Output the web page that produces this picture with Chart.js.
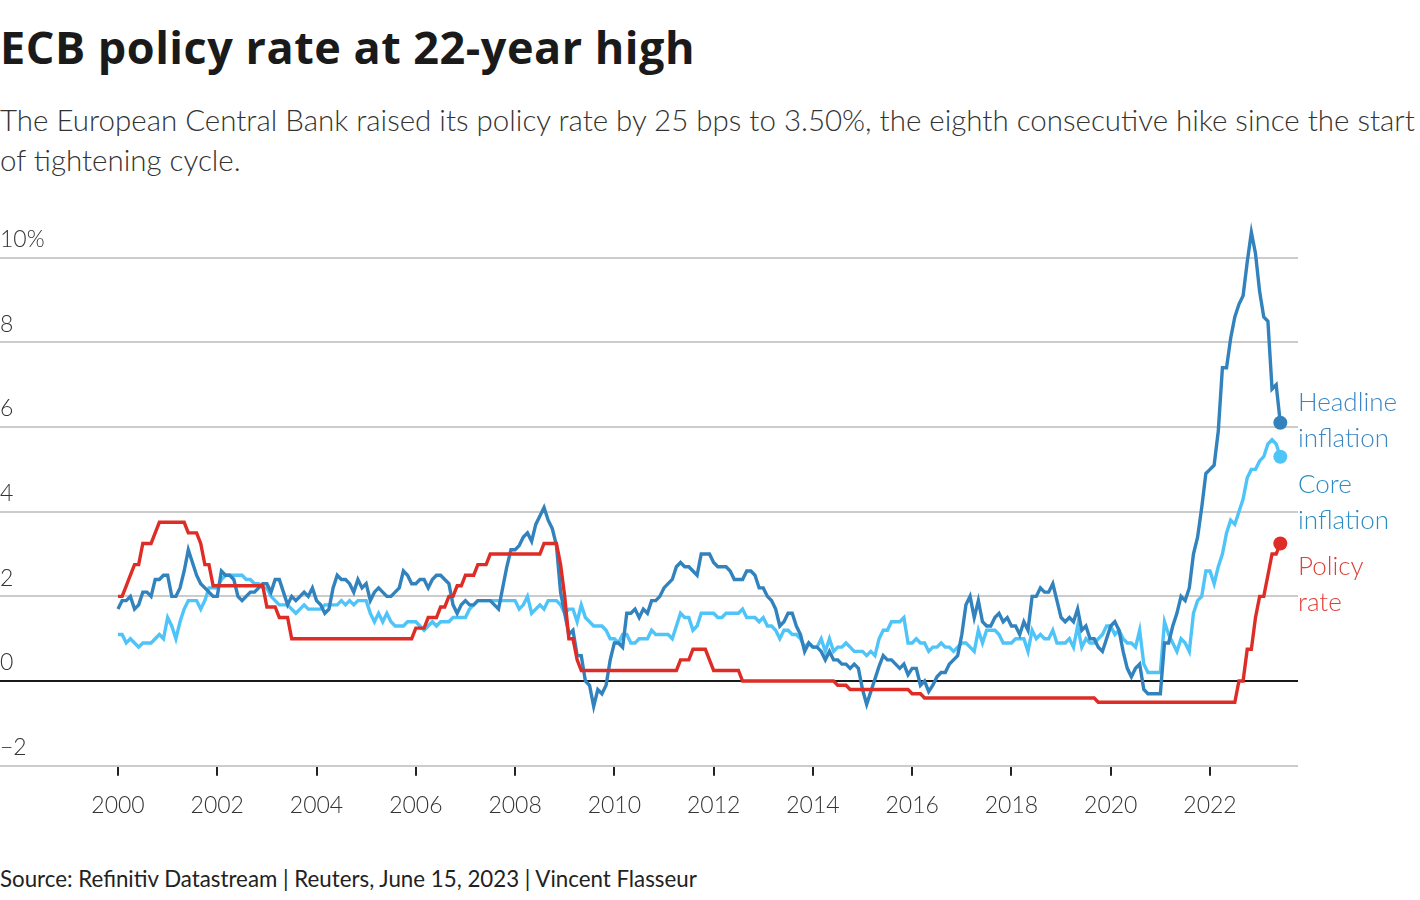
<!DOCTYPE html>
<html>
<head>
<meta charset="utf-8">
<script src="https://cdn.jsdelivr.net/npm/chart.js@4.4.0/dist/chart.umd.min.js"></script>
<style>
  body { margin: 0; width: 1420px; height: 900px; background: #fff; font-family: Lato, sans-serif; overflow: hidden; }
  .abs { position: absolute; white-space: nowrap; }
  #title { left: 0; top: 16px; font-family: "Open Sans", sans-serif; font-size: 45px; font-weight: 700; color: #1a1a1a; letter-spacing: 0.5px; }
  #subtitle { left: 0; top: 100px; font-size: 29.5px; font-weight: 300; color: #333; line-height: 40px; }
  #footer { left: 0; top: 865px; font-size: 22.3px; color: #222; }
  #wrap { position: absolute; left: 0; top: 200px; width: 1420px; height: 640px; }
  .lbl { position: absolute; left: 1298px; font-size: 26px; font-weight: 300; line-height: 36px; white-space: nowrap; }
</style>
</head>
<body>
<div id="title" class="abs">ECB policy rate at 22-year high</div>
<div id="subtitle" class="abs">The European Central Bank raised its policy rate by 25 bps to 3.50%, the eighth consecutive hike since the start<br>of tightening cycle.</div>
<div id="wrap"><canvas id="chart"></canvas></div>
<div class="lbl" style="top:383px;color:#3b86c4">Headline<br>inflation</div>
<div class="lbl" style="top:465px;color:#2a8cc2">Core<br>inflation</div>
<div class="lbl" style="top:547px;color:#e0403a">Policy<br>rate</div>
<div id="footer" class="abs">Source: Refinitiv Datastream | Reuters, June 15, 2023 | Vincent Flasseur</div>
<script>
// monthly data, first point = Dec 1999, plotted at month end
const startYear = 1999;
const startMonth = 12;

const headline = [
  1.7,
  1.9, 1.9, 2.0, 1.7, 1.8, 2.1, 2.1, 2.0, 2.4, 2.4, 2.5, 2.5,
  2.0, 2.0, 2.2, 2.6, 3.1, 2.8, 2.5, 2.3, 2.2, 2.1, 2.0, 2.0,
  2.6, 2.5, 2.5, 2.4, 2.0, 1.9, 2.0, 2.1, 2.1, 2.2, 2.3, 2.3,
  2.1, 2.4, 2.4, 2.1, 1.8, 2.0, 1.9, 2.0, 2.1, 2.0, 2.2, 1.9,
  1.8, 1.6, 1.7, 2.2, 2.5, 2.4, 2.4, 2.3, 2.1, 2.4, 2.2, 2.3,
  1.9, 2.1, 2.2, 2.1, 2.0, 2.0, 2.1, 2.2, 2.6, 2.5, 2.3, 2.3,
  2.4, 2.4, 2.2, 2.4, 2.5, 2.5, 2.4, 2.3, 1.8, 1.6, 1.8, 1.9,
  1.8, 1.8, 1.9, 1.9, 1.9, 1.9, 1.8, 1.7, 2.2, 2.7, 3.1, 3.1,
  3.2, 3.4, 3.5, 3.3, 3.7, 3.9, 4.1, 3.8, 3.6, 3.2, 2.1, 1.6,
  1.1, 1.2, 0.6, 0.6, 0.0, -0.1, -0.6, -0.2, -0.3, -0.1, 0.5, 0.9,
  0.9, 0.8, 1.6, 1.6, 1.7, 1.5, 1.7, 1.6, 1.9, 1.9, 2.0, 2.2,
  2.3, 2.4, 2.7, 2.8, 2.7, 2.7, 2.6, 2.5, 3.0, 3.0, 3.0, 2.8,
  2.7, 2.7, 2.7, 2.6, 2.4, 2.4, 2.4, 2.6, 2.6, 2.5, 2.2, 2.2,
  2.0, 1.9, 1.7, 1.3, 1.4, 1.6, 1.6, 1.3, 1.1, 0.7, 0.9, 0.8,
  0.8, 0.7, 0.5, 0.7, 0.5, 0.5, 0.4, 0.4, 0.3, 0.4, 0.3, -0.2,
  -0.55, -0.25, 0.05, 0.35, 0.6, 0.5, 0.5, 0.4, 0.3, 0.4, 0.15, 0.3,
  0.3, -0.1, 0.0, -0.25, -0.1, 0.1, 0.2, 0.2, 0.4, 0.5, 0.6, 1.1,
  1.8, 2.0, 1.5, 1.9, 1.4, 1.3, 1.3, 1.5, 1.6, 1.4, 1.5, 1.3,
  1.3, 1.1, 1.4, 1.2, 2.0, 2.0, 2.2, 2.1, 2.1, 2.3, 1.9, 1.5,
  1.4, 1.5, 1.4, 1.7, 1.2, 1.3, 1.0, 1.0, 0.8, 0.7, 1.0, 1.3,
  1.4, 1.2, 0.7, 0.3, 0.1, 0.3, 0.4, -0.2, -0.3, -0.3, -0.3, -0.3,
  0.9, 0.9, 1.3, 1.6, 2.0, 1.9, 2.2, 3.0, 3.4, 4.1, 4.9, 5.0,
  5.1, 5.9, 7.4, 7.4, 8.1, 8.6, 8.9, 9.1, 9.9, 10.6, 10.1, 9.2,
  8.6, 8.5, 6.9, 7.0, 6.1
];

const core = [
  1.1,
  1.1, 0.9, 1.0, 0.9, 0.8, 0.9, 0.9, 0.9, 1.0, 1.1, 1.0, 1.5,
  1.3, 1.0, 1.4, 1.7, 1.9, 1.9, 1.9, 1.7, 1.9, 2.2, 2.2, 2.2,
  2.4, 2.5, 2.5, 2.5, 2.5, 2.5, 2.4, 2.4, 2.3, 2.3, 2.2, 2.2,
  2.0, 1.9, 1.8, 1.8, 1.8, 1.7, 1.6, 1.7, 1.8, 1.7, 1.7, 1.7,
  1.7, 1.8, 1.8, 1.8, 1.8, 1.9, 1.8, 1.9, 1.8, 1.9, 1.9, 1.9,
  1.6, 1.4, 1.6, 1.4, 1.6, 1.4, 1.3, 1.3, 1.3, 1.4, 1.4, 1.4,
  1.3, 1.2, 1.3, 1.4, 1.3, 1.4, 1.4, 1.4, 1.5, 1.5, 1.5, 1.5,
  1.7, 1.8, 1.9, 1.9, 1.9, 1.9, 1.9, 1.9, 1.9, 1.9, 1.9, 1.9,
  1.7, 1.8, 2.0, 1.6, 1.7, 1.8, 1.7, 1.9, 1.9, 1.9, 1.8, 1.6,
  1.7, 1.7, 1.4, 1.8, 1.5, 1.4, 1.3, 1.3, 1.3, 1.2, 1.0, 1.0,
  0.9, 1.1, 1.1, 0.9, 0.9, 1.0, 1.0, 1.0, 1.2, 1.1, 1.1, 1.1,
  1.1, 1.0, 1.3, 1.6, 1.5, 1.5, 1.2, 1.3, 1.6, 1.6, 1.6, 1.6,
  1.5, 1.5, 1.6, 1.6, 1.6, 1.6, 1.7, 1.5, 1.5, 1.5, 1.4, 1.5,
  1.3, 1.3, 1.2, 1.0, 1.2, 1.2, 1.1, 1.1, 1.0, 0.8, 0.9, 0.8,
  0.8, 1.0, 0.7, 1.0, 0.7, 0.8, 0.8, 0.9, 0.8, 0.7, 0.7, 0.7,
  0.6, 0.7, 0.6, 1.0, 1.2, 1.2, 1.4, 1.4, 1.4, 1.5, 0.9, 0.9,
  1.0, 0.9, 0.9, 0.7, 0.8, 0.8, 0.9, 0.8, 0.8, 0.7, 0.8, 0.9,
  0.9, 0.8, 0.7, 1.2, 0.9, 1.2, 1.2, 1.2, 1.1, 0.9, 0.9, 0.9,
  1.0, 1.0, 1.0, 0.7, 1.2, 1.0, 1.1, 1.0, 1.0, 1.2, 0.9, 0.9,
  0.9, 1.0, 0.8, 1.3, 0.8, 1.0, 0.9, 0.9, 1.0, 1.1, 1.3, 1.3,
  1.1, 1.2, 1.0, 0.9, 0.9, 0.8, 1.2, 0.4, 0.2, 0.2, 0.2, 0.2,
  1.4, 1.1, 0.9, 0.7, 1.0, 0.9, 0.7, 1.6, 1.9, 2.0, 2.6, 2.6,
  2.3, 2.7, 3.0, 3.5, 3.8, 3.7, 4.0, 4.3, 4.8, 5.0, 5.0, 5.2,
  5.3, 5.6, 5.7, 5.6, 5.3
];

// ECB deposit facility rate, end of month
const policy = [
  2.0,
  2.0, 2.25, 2.5, 2.75, 2.75, 3.25, 3.25, 3.25, 3.5, 3.75, 3.75, 3.75,
  3.75, 3.75, 3.75, 3.75, 3.5, 3.5, 3.5, 3.25, 2.75, 2.75, 2.25, 2.25,
  2.25, 2.25, 2.25, 2.25, 2.25, 2.25, 2.25, 2.25, 2.25, 2.25, 2.25, 1.75,
  1.75, 1.75, 1.5, 1.5, 1.5, 1.0, 1.0, 1.0, 1.0, 1.0, 1.0, 1.0,
  1.0, 1.0, 1.0, 1.0, 1.0, 1.0, 1.0, 1.0, 1.0, 1.0, 1.0, 1.0,
  1.0, 1.0, 1.0, 1.0, 1.0, 1.0, 1.0, 1.0, 1.0, 1.0, 1.0, 1.25,
  1.25, 1.25, 1.5, 1.5, 1.5, 1.75, 1.75, 2.0, 2.0, 2.25, 2.25, 2.5,
  2.5, 2.5, 2.75, 2.75, 2.75, 3.0, 3.0, 3.0, 3.0, 3.0, 3.0, 3.0,
  3.0, 3.0, 3.0, 3.0, 3.0, 3.0, 3.25, 3.25, 3.25, 3.25, 2.75, 2.0,
  1.0, 1.0, 0.5, 0.25, 0.25, 0.25, 0.25, 0.25, 0.25, 0.25, 0.25, 0.25,
  0.25, 0.25, 0.25, 0.25, 0.25, 0.25, 0.25, 0.25, 0.25, 0.25, 0.25, 0.25,
  0.25, 0.25, 0.25, 0.5, 0.5, 0.5, 0.75, 0.75, 0.75, 0.75, 0.5, 0.25,
  0.25, 0.25, 0.25, 0.25, 0.25, 0.25, 0, 0, 0, 0, 0, 0,
  0, 0, 0, 0, 0, 0, 0, 0, 0, 0, 0, 0,
  0, 0, 0, 0, 0, -0.1, -0.1, -0.1, -0.2, -0.2, -0.2, -0.2,
  -0.2, -0.2, -0.2, -0.2, -0.2, -0.2, -0.2, -0.2, -0.2, -0.2, -0.2, -0.3,
  -0.3, -0.3, -0.4, -0.4, -0.4, -0.4, -0.4, -0.4, -0.4, -0.4, -0.4, -0.4,
  -0.4, -0.4, -0.4, -0.4, -0.4, -0.4, -0.4, -0.4, -0.4, -0.4, -0.4, -0.4,
  -0.4, -0.4, -0.4, -0.4, -0.4, -0.4, -0.4, -0.4, -0.4, -0.4, -0.4, -0.4,
  -0.4, -0.4, -0.4, -0.4, -0.4, -0.4, -0.4, -0.4, -0.5, -0.5, -0.5, -0.5,
  -0.5, -0.5, -0.5, -0.5, -0.5, -0.5, -0.5, -0.5, -0.5, -0.5, -0.5, -0.5,
  -0.5, -0.5, -0.5, -0.5, -0.5, -0.5, -0.5, -0.5, -0.5, -0.5, -0.5, -0.5,
  -0.5, -0.5, -0.5, -0.5, -0.5, -0.5, 0, 0, 0.75, 0.75, 1.5, 2.0,
  2.0, 2.5, 3.0, 3.0, 3.25
];

const xTicks = [2000, 2002, 2004, 2006, 2008, 2010, 2012, 2014, 2016, 2018, 2020, 2022];
const yTicks = [-2, 0, 2, 4, 6, 8, 10];

// month-end position as decimal year
function monthX(i) {
  const m = startMonth + i; // months counted from the start of startYear
  return startYear + m / 12;
}

function toPoints(arr) {
  return arr.map((v, i) => ({ x: monthX(i), y: v }));
}

function series(label, arr, color) {
  const last = arr.length - 1;
  return {
    label: label,
    data: toPoints(arr),
    borderColor: color,
    backgroundColor: color,
    borderWidth: 3.4,
    tension: 0,
    pointRadius: ctx => ctx.dataIndex === last ? 7 : 0,
    pointBorderWidth: 0,
    pointHoverRadius: 0
  };
}

const axisFont = { family: 'Lato', size: 23, weight: '300' };

new Chart(document.getElementById('chart'), {
  type: 'line',
  data: {
    datasets: [
      series('Policy rate', policy, '#de2d26'),
      series('Headline inflation', headline, '#3182bd'),
      series('Core inflation', core, '#4fc4f8')
    ]
  },
  options: {
    responsive: true,
    maintainAspectRatio: false,
    animation: false,
    events: [],
    layout: { autoPadding: false, padding: { top: 15.4, right: 122, left: 0, bottom: 0 } },
    plugins: { legend: { display: false }, tooltip: { enabled: false } },
    scales: {
      x: {
        type: 'linear',
        min: 1997.623,
        max: 2023.773,
        afterBuildTicks: s => { s.ticks = xTicks.map(v => ({ value: v })); },
        afterFit: s => { s.height = 74.3; s.paddingLeft = 0; s.paddingRight = 0; },
        border: { display: false },
        grid: { drawOnChartArea: false, drawTicks: true, tickLength: 10, color: '#222', lineWidth: 2 },
        ticks: { font: axisFont, color: '#333', padding: 16, autoSkip: false, maxRotation: 0, callback: v => String(v) }
      },
      y: {
        min: -2,
        max: 11,
        afterBuildTicks: s => { s.ticks = yTicks.map(v => ({ value: v })); },
        afterFit: s => { s.width = 0; s.paddingTop = 0; s.paddingBottom = 0; },
        border: { display: false },
        grid: {
          drawTicks: false,
          lineWidth: 2,
          color: ctx => ctx.tick && ctx.tick.value === 0 ? '#1a1a1a' : '#cccccc'
        },
        ticks: {
          mirror: true,
          padding: 0,
          labelOffset: -18,
          font: axisFont,
          color: '#333',
          autoSkip: false,
          callback: v => v === 10 ? '10%' : (v < 0 ? '\u2212' + Math.abs(v) : String(v))
        }
      }
    }
  }
});
</script>
</body>
</html>
